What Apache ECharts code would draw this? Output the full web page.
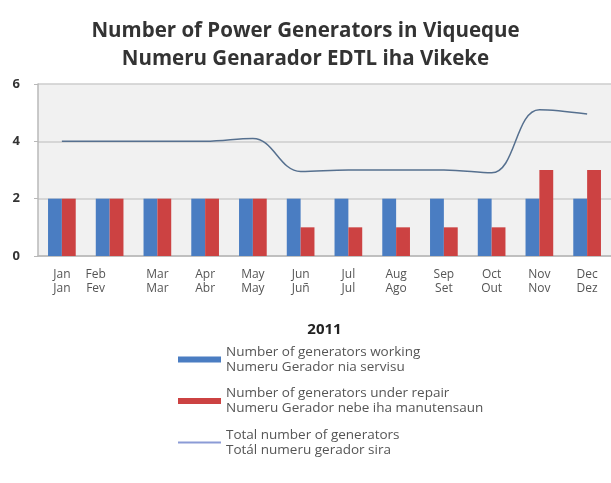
<!DOCTYPE html>
<html>
<head>
<meta charset="utf-8">
<script src="https://cdn.jsdelivr.net/npm/echarts@6/dist/echarts.min.js"></script>
<style>
  html, body { margin: 0; padding: 0; background: #fff; }
  #chart { width: 611px; height: 483px; }
</style>
</head>
<body>
<div id="chart"></div>
<script>
const monthsEn = ['Jan', 'Feb', 'Mar', 'Apr', 'May', 'Jun', 'Jul', 'Aug', 'Sep', 'Oct', 'Nov', 'Dec']
const monthsTet = ['Jan', 'Fev', 'Mar', 'Abr', 'May', 'Juñ', 'Jul', 'Ago', 'Set', 'Out', 'Nov', 'Dez']

const working = [2, 2, 2, 2, 2, 2, 2, 2, 2, 2, 2, 2]
const repair = [2, 2, 2, 2, 2, 1, 1, 1, 1, 1, 3, 3]
const total = [4, 4, 4, 4, 4.1, 2.95, 3, 3, 3, 2.9, 5.1, 4.95]

const seriesEn = ['Number of generators working', 'Number of generators under repair', 'Total number of generators']
const seriesTet = ['Numeru Gerador nia servisu', 'Numeru Gerador nebe iha manutensaun', 'Totál numeru gerador sira']

const font = '"Open Sans", Lato, sans-serif'
const blue = '#4a7dc2'
const red = '#cc4242'
const lineColor = '#56708f'

const chart = echarts.init(document.getElementById('chart'))

chart.setOption({
  backgroundColor: '#fff',
  textStyle: { fontFamily: font },
  title: {
    text: 'Number of Power Generators in Viqueque\nNumeru Genarador EDTL iha Vikeke',
    left: 'center',
    top: 12,
    textStyle: {
      fontFamily: font,
      fontSize: 20.5,
      fontWeight: 'bold',
      color: '#333',
      lineHeight: 28,
    },
  },
  grid: {
    left: 38,
    right: -6,
    top: 84,
    bottom: 227,
    show: true,
    backgroundColor: '#f1f1f1',
    borderWidth: 0,
  },
  legend: {
    orient: 'vertical',
    left: 177,
    top: 337,
    padding: 0,
    itemGap: -3.5,
    itemWidth: 43,
    itemHeight: 6,
    data: [
      { name: seriesEn[0], icon: 'rect' },
      { name: seriesEn[1], icon: 'rect' },
      {
        name: seriesEn[2],
        lineStyle: { color: '#8b9bd6', width: 2 },
        itemStyle: { opacity: 0 },
      },
    ],
    formatter: (name) => name + '\n' + seriesTet[seriesEn.indexOf(name)],
    textStyle: {
      fontFamily: font,
      fontSize: 13.5,
      color: '#555',
      lineHeight: 15,
      padding: [15, 0, 0, 0],
    },
  },
  xAxis: {
    type: 'category',
    data: monthsEn,
    name: '2011',
    nameLocation: 'middle',
    nameGap: 66,
    nameTextStyle: { fontFamily: font, fontSize: 15, fontWeight: 'bold', color: '#222' },
    axisLine: { lineStyle: { color: '#b8b8b8', width: 1.5 } },
    axisTick: { length: 4, lineStyle: { color: '#b8b8b8' } },
    axisLabel: {
      margin: 12,
      interval: 0,
      fontFamily: font,
      fontSize: 12,
      lineHeight: 14,
      color: '#555',
      formatter: (v, i) => {
        if (i === 1) return '{s|' + v + '}\n{s|' + monthsTet[i] + '}'
        return v + '\n' + monthsTet[i]
      },
      rich: {
        s: { fontFamily: font, fontSize: 12, lineHeight: 14, color: '#555', padding: [0, 28, 0, 0] },
      },
    },
  },
  yAxis: {
    type: 'value',
    min: 0,
    max: 6,
    interval: 2,
    axisLine: { show: true, lineStyle: { color: '#b8b8b8', width: 1.5 } },
    axisTick: { show: true, length: 4, lineStyle: { color: '#b8b8b8' } },
    axisLabel: { margin: 18, fontFamily: font, fontSize: 13, fontWeight: 'bold', color: '#333' },
    splitLine: { lineStyle: { color: '#cdcdcd', width: 1.5 } },
  },
  series: [
    {
      name: seriesEn[0],
      type: 'bar',
      data: working,
      barGap: '0%',
      barCategoryGap: '42%',
      itemStyle: { color: blue },
    },
    {
      name: seriesEn[1],
      type: 'bar',
      data: repair,
      itemStyle: { color: red },
    },
    {
      name: seriesEn[2],
      type: 'line',
      data: total,
      smooth: 0.4,
      symbol: 'none',
      lineStyle: { color: lineColor, width: 1.5 },
      itemStyle: { color: lineColor },
    },
  ],
})
</script>
</body>
</html>
